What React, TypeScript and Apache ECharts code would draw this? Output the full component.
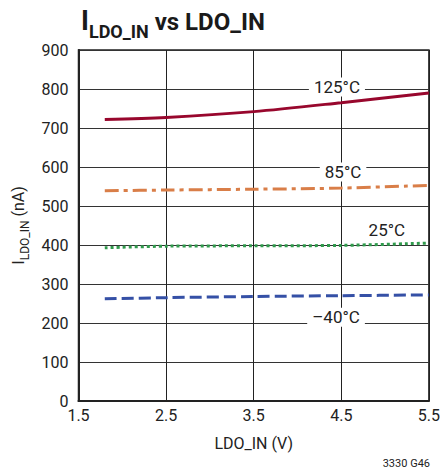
import React, { useEffect, useRef } from "react";
import * as echarts from "echarts";

const xValues = [1.8, 2.5, 3.5, 4.5, 5.5];
const t125 = [722, 727, 742, 765, 790];
const t85 = [539, 541, 543, 546, 553];
const t25 = [393, 397, 398, 399, 405];
const tm40 = [262, 265, 268, 270, 272];
const seriesNames = ["125°C", "85°C", "25°C", "–40°C"];
const labelCoords: [number, number][] = [
  [4.45, 805],
  [4.52, 587],
  [5.02, 438],
  [4.44, 215],
];
const colors = ["#98072d", "#d97e48", "#2f9a4c", "#3550a6"];
const dashes: any[] = ["solid", [14, 5, 4, 5], [3, 3], [12, 5]];

const NARROW = "'Liberation Sans Narrow', 'Arial Narrow', Roboto, sans-serif";
const BASE = "Roboto, 'Liberation Sans', sans-serif";

export default function App() {
  const ref = useRef<HTMLDivElement>(null);
  useEffect(() => {
    if (!ref.current) return;
    const chart = echarts.init(ref.current, undefined, { renderer: "svg" });
    const all = [t125, t85, t25, tm40];
    chart.setOption({
      animation: false,
      backgroundColor: "#fff",
      title: {
        left: 76,
        top: 2,
        text: "{i|I}{sub|LDO_IN}{t| vs LDO_IN}",
        textStyle: {
          rich: {
            i: { fontFamily: NARROW, fontWeight: "bold", fontSize: 27, color: "#1a1a1a", verticalAlign: "bottom" },
            sub: { fontFamily: NARROW, fontWeight: "bold", fontSize: 18, color: "#1a1a1a", verticalAlign: "bottom", padding: [0, 0, -6, 0] },
            t: { fontFamily: NARROW, fontWeight: "bold", fontSize: 24, color: "#1a1a1a", verticalAlign: "bottom" },
          },
        },
      },
      grid: {
        left: 78.5,
        right: 13,
        top: 50,
        bottom: 73,
        show: true,
        borderColor: "#222",
        borderWidth: 1.5,
      },
      xAxis: {
        type: "value",
        min: 1.5,
        max: 5.5,
        interval: 1,
        axisLine: { show: true, lineStyle: { color: "#222", width: 2 } },
        axisTick: { show: false },
        axisLabel: { fontFamily: BASE, fontSize: 16, color: "#222", margin: 6, formatter: (v: number) => v.toFixed(1) },
        splitLine: { show: true, lineStyle: { color: "#222", width: 1 } },
        name: "LDO_IN (V)",
        nameLocation: "middle",
        nameGap: 34,
        nameTextStyle: { fontFamily: BASE, fontSize: 16, color: "#222" },
      },
      yAxis: {
        type: "value",
        min: 0,
        max: 900,
        interval: 100,
        axisLine: { show: true, lineStyle: { color: "#222", width: 2 } },
        axisTick: { show: false },
        axisLabel: { fontFamily: BASE, fontSize: 16, color: "#222", margin: 10 },
        splitLine: { show: true, lineStyle: { color: "#333", width: 1 } },
        name: "{i|I}{sub|LDO_IN}{n| (nA)}",
        nameLocation: "middle",
        nameGap: 50,
        nameTextStyle: {
          rich: {
            i: { fontFamily: BASE, fontSize: 17, color: "#222", verticalAlign: "bottom" },
            sub: { fontFamily: BASE, fontSize: 12, color: "#222", verticalAlign: "bottom", padding: [0, 0, -4, 0] },
            n: { fontFamily: BASE, fontSize: 16, color: "#222", verticalAlign: "bottom" },
          },
        },
      },
      series: all.map((vals, i) => ({
        type: "line",
        name: seriesNames[i],
        data: xValues.map((x, j) => [x, vals[j]]),
        smooth: 0.3,
        showSymbol: false,
        lineStyle: { color: colors[i], width: 3, type: dashes[i] },
        markPoint: {
          symbol: "rect",
          symbolSize: 0,
          data: [
            {
              coord: labelCoords[i],
              label: {
                show: true,
                position: "inside",
                formatter: seriesNames[i],
                fontFamily: BASE,
                fontSize: 17,
                color: "#222",
                backgroundColor: i === 2 ? "transparent" : "#fff",
                padding: [1, 5],
              },
            },
          ],
        },
      })),
      graphic: [
        {
          type: "text",
          right: 13,
          top: 458,
          style: { text: "3330 G46", fontFamily: BASE, fontSize: 11, fill: "#222" },
        },
      ],
    });
    return () => chart.dispose();
  }, []);
  return (
    <div
      ref={ref}
      style={{ position: "absolute", left: 0, top: 0, width: 443, height: 474 }}
    />
  );
}
